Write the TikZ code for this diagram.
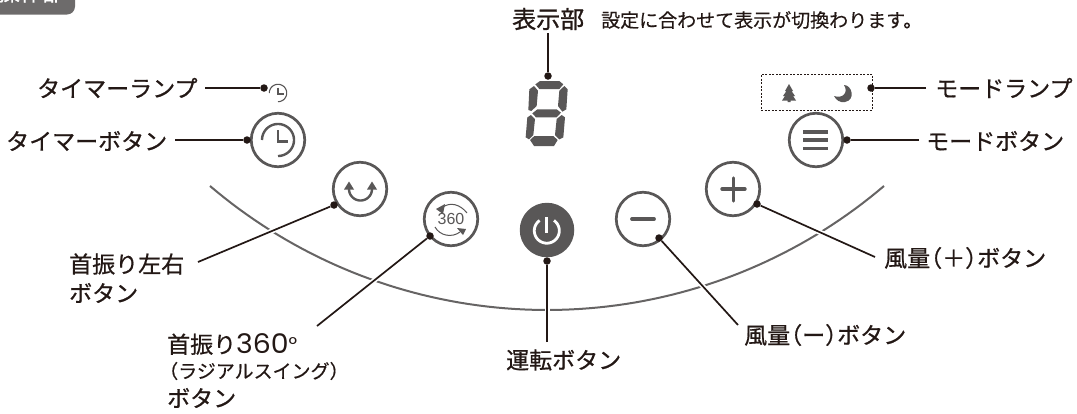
\documentclass[tikz,border=0pt]{standalone}
\usepackage{fontspec}
\usetikzlibrary{backgrounds}
\setmainfont{Noto Sans CJK JP}[FakeBold=0.7]
\newfontfamily\heavyf{Noto Sans CJK JP}[FakeBold=1.1]
\newfontfamily\lightf{Noto Sans CJK JP}[FakeBold=0.4]
\newfontfamily\latinf{Poppins}[FakeStretch=1.05]
\newfontfamily\iconf{Liberation Sans}
\definecolor{ink}{HTML}{231815}
\definecolor{pan}{HTML}{595757}
\newcommand{\ringarc}[7][]{\draw[#1] plot[domain=#6:#7,samples=50] ({#2+#4*cos(\x)},{#3-#5*sin(\x)});}
\tikzset{
 lab/.style={anchor=west,inner sep=0pt,text=ink,font=\fontsize{23}{24}\selectfont},
 pdot/.style={circle,fill=ink,inner sep=0pt,minimum size=7.5pt},
 lead/.style={draw=ink,line width=1.7pt,preaction={draw=white,line width=5pt}},
 btn/.style={circle,draw=pan,line width=2.7pt,minimum size=53.5pt,inner sep=0pt,fill=white},
 gl/.style={draw=pan,line width=2.4pt},
}
\begin{document}
\begin{tikzpicture}[x=1pt,y=-1pt]
\useasboundingbox (0,0) rectangle (1077,413);
\clip (0,0) rectangle (1077,413);
% tab
\fill[pan!88!white,rounded corners=8pt] (-20,-25) rectangle (75,14.5);
\node[inner sep=0pt,text=white,font=\fontsize{22}{23}\selectfont] (tab) at (31,-7.5) {操作部};
% buttons
\node[btn] (btimer) at (278,140) {};
\ringarc[gl]{278}{140}{16}{16}{180}{-90}
\draw[gl] (278,130) -- (278,141.5) -- (288,141.5);
\node[btn] (bswing) at (360,189) {};
\ringarc[gl]{360.5}{189}{11.5}{11.5}{180}{360}
\fill[pan] (344,189.5) -- (349,181.5) -- (354,189.5) -- cycle;
\fill[pan] (367,189.5) -- (372,181.5) -- (377,189.5) -- cycle;
\node[btn,font=\fontsize{16}{17}\selectfont\iconf,text=pan] (b360) at (451,219) {360};
\draw[pan,line width=1pt] (443,207) .. controls (450,202) and (460,204) .. (467,213);
\fill[pan] (436,209) -- (445,204) -- (443,214) -- cycle;
\draw[pan,line width=1pt] (435,227) .. controls (440,236) and (452,238) .. (460,232);
\fill[pan] (466,229) -- (457,228) -- (463,235) -- cycle;
\node[circle,fill=pan,minimum size=54.5pt,inner sep=0pt] (bpower) at (547,230) {};
\ringarc[white,line width=2.8pt]{546.8}{230.7}{12.5}{12.5}{55}{-235}
\draw[white,line width=2.8pt] (546.8,217) -- (546.8,233);
\node[btn] (bminus) at (643,219) {};
\draw[pan,line width=3.8pt,line cap=round] (632,219) -- (654,219);
\node[btn] (bplus) at (733,189) {};
\draw[pan,line width=3.4pt,line cap=round] (722,189) -- (745,189) (733.3,178) -- (733.3,201);
\node[btn] (bmode) at (816,140) {};
\draw[pan,line width=3.6pt] (803,131.7) -- (828,131.7) (803,140) -- (828,140) (803,148.3) -- (828,148.3);
% lamp
\coordinate (lamp) at (278,93);
\ringarc[pan,line width=1.1pt]{278}{93}{8.7}{8.7}{180}{-90}
\draw[pan,line width=1.1pt] (278,87.5) -- (278,94) -- (284,94);
% mode lamp box
\node[draw=ink,line width=.8pt,dash pattern=on 2pt off 1.5pt,minimum width=111pt,minimum height=36pt,inner sep=0pt] (lbox) at (816.5,92) {};
\fill[pan] (789,84) -- (793,91) -- (791.5,91) -- (795,96) -- (793,96) -- (796,100.5) -- (790.5,100.5) -- (790.5,102) -- (787.5,102) -- (787.5,100.5) -- (782,100.5) -- (785,96) -- (783,96) -- (786.5,91) -- (785,91) -- cycle;
\fill[pan] (844,85) .. controls (852,85) and (856,100) .. (845,102) .. controls (840,103) and (836,100) .. (834,96) .. controls (842,99) and (849,93) .. (844,85) -- cycle;
% seven seg
\begin{scope}[shift={(400,60)},x=0.33333pt,y=-0.33333pt]
\fill[pan] (420,63) -- (478,63) -- (490,73) -- (478,87) -- (418,87) -- (406,73) -- cycle;
\fill[pan] (388,88) -- (402,78) -- (414,92) -- (410,138) -- (394,153) -- (385,150) -- cycle;
\fill[pan] (493,78) -- (503,88) -- (499,148) -- (487,155) -- (474,138) -- (478,92) -- cycle;
\fill[pan] (412,148) -- (470,148) -- (483,158) -- (470,172) -- (408,172) -- (397,160) -- cycle;
\fill[pan] (393,165) -- (405,177) -- (400,225) -- (387,238) -- (377,232) -- (382,172) -- cycle;
\fill[pan] (485,165) -- (495,172) -- (490,232) -- (478,238) -- (465,225) -- (470,177) -- cycle;
\fill[pan] (403,228) -- (460,228) -- (473,240) -- (462,258) -- (402,258) -- (390,240) -- cycle;
\end{scope}
% dots
\node[pdot] (d1) at (264,88) {};
\node[pdot] (d2) at (247,140) {};
\node[pdot] (d3) at (334,205) {};
\node[pdot] (d4) at (430,236) {};
\node[pdot] (d5) at (547,261) {};
\node[pdot] (d6) at (659,238) {};
\node[pdot] (d7) at (757,204) {};
\node[pdot] (d8) at (847,140) {};
\node[pdot] (d9) at (871,88) {};
\node[pdot] (d10) at (548,76) {};
% labels
\node[lab] (l1) at (37,88) {タイマーランプ};
\node[lab] (l2) at (6,141) {タイマーボタン};
\node[lab] (l3a) at (69,264) {首振り左右};
\node[lab] (l3b) at (69,293) {ボタン};
\node[lab] (l4a) at (167,344) {首振り{\latinf\fontsize{27}{28}\selectfont 360\raisebox{.1ex}{\fontsize{20}{20}\selectfont°}}};
\node[lab,font=\fontsize{19}{20}\selectfont\lightf] (l4b) at (159,371) {（ラジアルスイング）};
\node[lab] (l4c) at (167,398) {ボタン};
\node[lab] (l5) at (506,360) {運転ボタン};
\node[lab] (l6) at (744,335) {風量\kern-11pt（ー）\kern-11pt ボタン};
\node[lab] (l7) at (884,258) {風量\kern-11pt（＋）\kern-11pt ボタン};
\node[lab] (l8) at (926,141) {モードボタン};
\node[lab] (l9) at (935,88) {モードランプ};
\node[lab,font=\fontsize{24}{26}\selectfont\heavyf] (l10) at (512,19) {表示部};
\node[lab,font=\fontsize{19}{20}\selectfont\lightf] (l11) at (601,20) {設定に合わせて表示が切換わります。};
% free ends
\coordinate (e1) at (205,88);
\coordinate (e2) at (175,140);
\coordinate (e3) at (198,262);
\coordinate (e4) at (317,326);
\coordinate (e5) at (547,342);
\coordinate (e6) at (738,325);
\coordinate (e7) at (875,257);
\coordinate (e8) at (919,140);
\coordinate (e9) at (926,88);
\coordinate (e10) at (548,33);
\begin{scope}[on background layer]
\draw[pan!92!white,line width=2pt] plot[domain=-40.4:40.4,samples=80] ({547+520*sin(\x)},{-210+520*cos(\x)});
\draw[lead] (e1) -- (d1);
\draw[lead] (e2) -- (d2);
\draw[lead] (e3) -- (d3);
\draw[lead] (e4) -- (d4);
\draw[lead] (e5) -- (d5);
\draw[lead] (e6) -- (d6);
\draw[lead] (e7) -- (d7);
\draw[lead] (e8) -- (d8);
\draw[lead] (e9) -- (d9);
\draw[lead] (e10) -- (d10);
\end{scope}
\end{tikzpicture}
\end{document}
